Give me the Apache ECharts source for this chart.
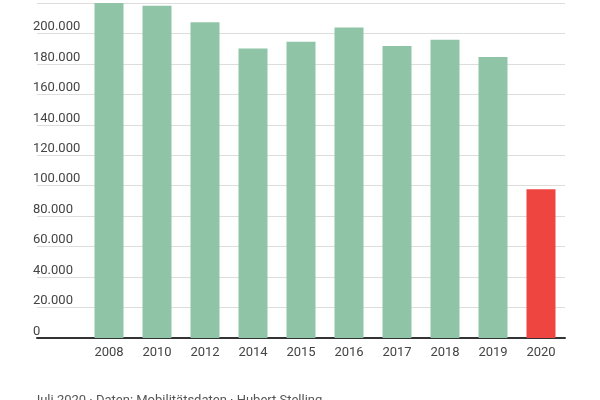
<!DOCTYPE html>
<html><head><meta charset="utf-8">
<script src="https://cdn.jsdelivr.net/npm/echarts@6/dist/echarts.min.js"></script>
<style>html,body{margin:0;padding:0;background:#fff}#chart{width:600px;height:400px}</style>
</head><body><div id="chart"></div>
<script>
const years = ["", "2008", "2010", "2012", "2014", "2015", "2016", "2017", "2018", "2019", "2020"];
const values = [null, 228000, 218200, 207400, 190200, 194500, 203900, 191700, 195900, 184500, 97700];
const highlight = "2020";

const chart = echarts.init(document.getElementById("chart"));
chart.setOption({
  animation: false,
  grid: { left: 37, right: 35, top: 3, bottom: 62 },
  xAxis: {
    type: "category",
    data: years,
    axisLine: { lineStyle: { color: "#333", width: 2 } },
    axisTick: { show: false },
    axisLabel: { color: "#444", fontFamily: "Roboto", fontSize: 13, margin: 8 }
  },
  yAxis: {
    type: "value",
    min: 0, max: 220000, interval: 20000,
    axisLine: { show: false },
    axisTick: { show: false },
    splitLine: { lineStyle: { color: "#ddd" } },
    axisLabel: {
      inside: true, verticalAlign: "bottom", margin: -4,
      color: "#444", fontFamily: "Roboto", fontSize: 13,
      formatter: v => v === 220000 ? "" : v.toString().replace(/\B(?=(\d{3})+(?!\d))/g, ".")
    }
  },
  series: [{
    type: "bar",
    clip: true,
    barWidth: 29,
    data: values.map((v, i) => ({
      value: v,
      itemStyle: { color: years[i] === highlight ? "#ef4540" : "#8fc4a6" }
    }))
  }],
  graphic: [{
    type: "text", left: 33, top: 394,
    style: { text: "Juli 2020 · Daten: Mobilitätsdaten · Hubert Stelling", fill: "#555", font: "13px Roboto" }
  }]
});
</script></body></html>
